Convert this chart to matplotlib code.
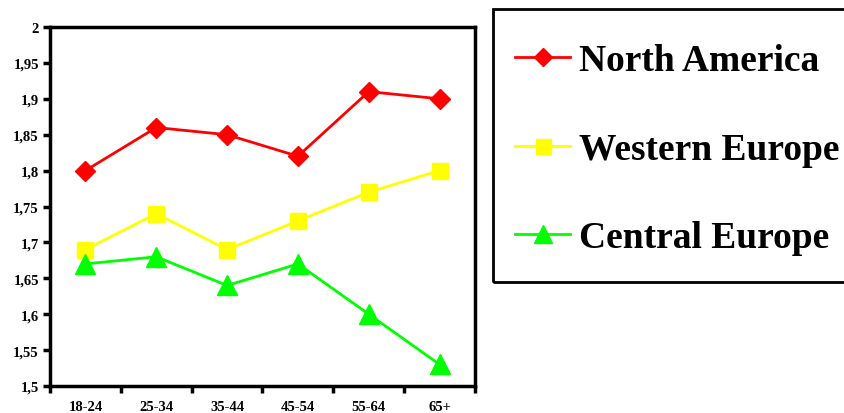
import numpy as np
import matplotlib
matplotlib.use('Agg')
import matplotlib.pyplot as plt
from matplotlib.patches import Rectangle

# donnees
ages = ["18-24", "25-34", "35-44", "45-54", "55-64", "65+"]
north_america = [1.80, 1.86, 1.85, 1.82, 1.91, 1.90]
western_europe = [1.69, 1.74, 1.69, 1.73, 1.77, 1.80]
central_europe = [1.67, 1.68, 1.64, 1.67, 1.60, 1.53]
yticks = [1.5, 1.55, 1.6, 1.65, 1.7, 1.75, 1.8, 1.85, 1.9, 1.95, 2.0]
ylabels = ["1,5", "1,55", "1,6", "1,65", "1,7", "1,75", "1,8", "1,85", "1,9", "1,95", "2"]

plt.rcParams['font.family'] = ['Liberation Serif', 'DejaVu Serif']
plt.rcParams['font.weight'] = 'bold'

W, H = 845, 414
fig = plt.figure(figsize=(W/100, H/100), dpi=100)
ax = fig.add_axes([50/W, 1-387/H, 425/W, 359/H])

x = np.arange(len(ages))
ax.plot(x, north_america, color='#ff0000', lw=2, marker='D', ms=10, label='North America')
ax.plot(x, western_europe, color='#ffff00', lw=2, marker='s', ms=12, label='Western Europe')
ax.plot(x, central_europe, color='#00ff00', lw=2, marker='^', ms=14, label='Central Europe')

ax.set_xlim(-0.5, 5.5)
ax.set_ylim(1.5, 2.0)
ax.set_yticks(yticks)
ax.set_yticklabels(ylabels, fontsize=10.5, fontweight='bold')
ax.set_xticks(x)
ax.set_xticklabels(ages, fontsize=10.5, fontweight='bold')
ax.set_xticks(np.arange(-0.5, 6, 1), minor=True)
ax.tick_params(axis='x', which='major', length=0, pad=10)
ax.tick_params(axis='x', which='minor', length=5, width=2.5, direction='out')
ax.tick_params(axis='y', length=5, width=2.5, direction='out', pad=3)
for s in ax.spines.values():
    s.set_linewidth(2.5)

# cadre de la legende, coupe a droite comme sur l'original
fig.patches.append(Rectangle((493/W, 1-283/H), 360/W, 273/H, transform=fig.transFigure,
                             fill=False, edgecolor='black', lw=2))
leg = fig.legend(loc='upper left', bbox_to_anchor=(515/W, 1-44/H), frameon=False,
                 handlelength=1.47, borderaxespad=0, borderpad=0,
                 handletextpad=0.24, labelspacing=1.43, markerscale=0.9,
                 prop={'family': 'Liberation Serif', 'weight': 'bold', 'size': 27})

plt.savefig('out.png', dpi=100)
